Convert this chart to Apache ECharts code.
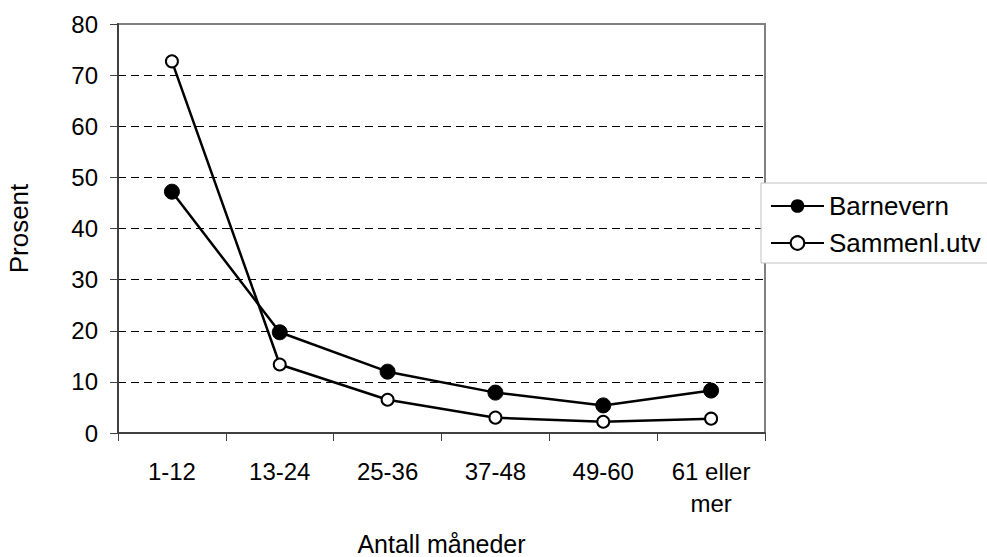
<!DOCTYPE html>
<html>
<head>
<meta charset="utf-8">
<script src="https://cdn.jsdelivr.net/npm/echarts@6/dist/echarts.min.js"></script>
<style>
html,body{margin:0;padding:0;background:#fff;}
#chart{width:987px;height:557px;}
</style>
</head>
<body>
<div id="chart"></div>
<script>
var categories = ['1-12', '13-24', '25-36', '37-48', '49-60', '61 eller\nmer'];
var barnevern = [47.2, 19.7, 12.0, 7.9, 5.4, 8.3];
var sammenl = [72.7, 13.4, 6.5, 3.0, 2.2, 2.8];
var seriesNames = ['Barnevern', 'Sammenl.utv'];
var yTicks = { min: 0, max: 80, interval: 10 };

var FONT = '"Liberation Sans", Arial, sans-serif';
var chart = echarts.init(document.getElementById('chart'), null, { renderer: 'svg' });
chart.setOption({
  backgroundColor: '#fff',
  animation: false,
  grid: {
    left: 118, right: 222, top: 24, bottom: 124,
    outerBoundsMode: 'none', containLabel: false,
    show: true, borderColor: '#808080', borderWidth: 2, backgroundColor: '#fff'
  },
  xAxis: {
    type: 'category',
    data: categories,
    boundaryGap: true,
    name: 'Antall måneder',
    nameLocation: 'middle',
    nameGap: 111,
    nameTextStyle: { fontFamily: FONT, fontSize: 25, color: '#000', verticalAlign: 'middle', lineHeight: 25 },
    axisLine: { lineStyle: { color: '#404040', width: 2 } },
    axisTick: { show: true, length: 8, lineStyle: { color: '#404040', width: 1 } },
    axisLabel: { fontFamily: FONT, fontSize: 24, color: '#000', margin: 22, lineHeight: 32, interval: 0 },
    splitLine: { show: false }
  },
  yAxis: {
    type: 'value',
    min: yTicks.min, max: yTicks.max, interval: yTicks.interval,
    name: 'Prosent',
    nameLocation: 'middle',
    nameGap: 86,
    nameTextStyle: { fontFamily: FONT, fontSize: 26, color: '#000' },
    axisLine: { show: true, lineStyle: { color: '#404040', width: 2 } },
    axisTick: { show: true, length: 8, lineStyle: { color: '#404040', width: 1 } },
    axisLabel: { fontFamily: FONT, fontSize: 24, color: '#000', margin: 20 },
    splitLine: { show: true, showMinLine: false, showMaxLine: false, lineStyle: { color: '#000', width: 1, type: [8, 5] } }
  },
  graphic: [{
    type: 'rect', z: 5,
    shape: { x: 761, y: 183, width: 240, height: 80 },
    style: { fill: '#fff', stroke: '#c0c0c0', lineWidth: 1 }
  }],
  legend: {
    z: 10,
    orient: 'vertical',
    left: 765, top: 188,
    itemWidth: 53, itemHeight: 17, itemGap: 11,
    data: seriesNames,
    textStyle: { fontFamily: FONT, fontSize: 26, color: '#000', lineHeight: 26 }
  },
  series: [{
    name: seriesNames[0],
    type: 'line',
    data: barnevern,
    symbol: 'circle',
    symbolSize: 15,
    lineStyle: { color: '#000', width: 2.5 },
    itemStyle: { color: '#000', borderColor: '#000' }
  }, {
    name: seriesNames[1],
    type: 'line',
    data: sammenl,
    symbol: 'emptyCircle',
    symbolSize: 12,
    lineStyle: { color: '#000', width: 2.5 },
    itemStyle: { color: '#000', borderColor: '#000', borderWidth: 2.5 }
  }]
});
</script>
</body>
</html>
